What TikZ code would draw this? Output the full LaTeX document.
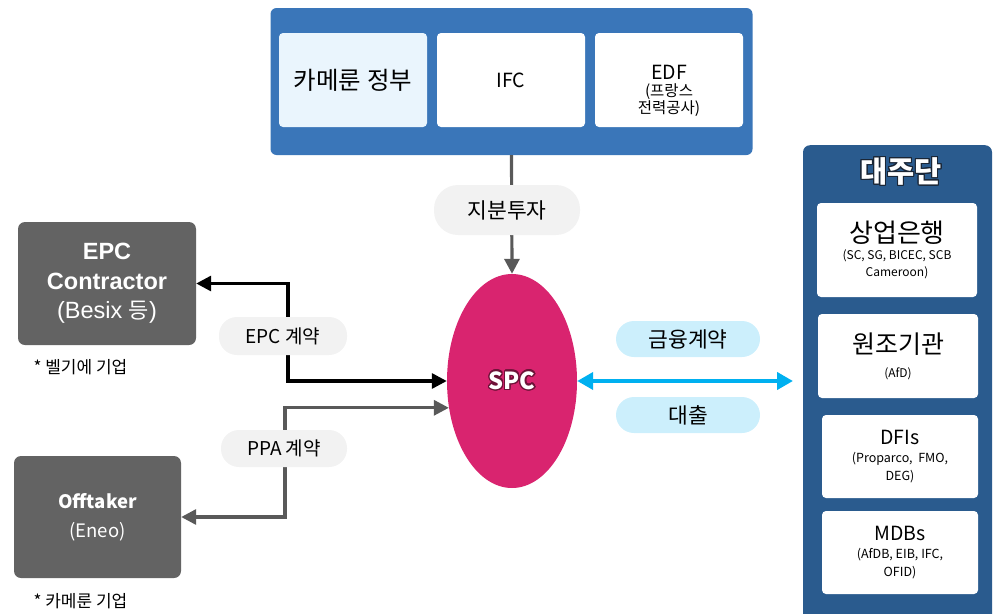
\documentclass[tikz,border=0pt]{standalone}
\usepackage{fontspec}
\setmainfont{Noto Sans CJK KR}
\newfontfamily\arialfont{Liberation Sans}
\usepackage{contour}
\contourlength{1.3pt}
\usetikzlibrary{arrows.meta,shapes.geometric}
\definecolor{topblue}{HTML}{3A76B9}
\definecolor{govfill}{HTML}{EAF5FD}
\definecolor{pillgray}{HTML}{F2F2F2}
\definecolor{pillblue}{HTML}{CCEFFC}
\definecolor{boxgray}{HTML}{636363}
\definecolor{spcpink}{HTML}{D9246F}
\definecolor{spcdark}{HTML}{6E1238}
\definecolor{lendblue}{HTML}{2A5B8E}
\definecolor{titledark}{HTML}{1A2636}
\definecolor{loancyan}{HTML}{00B0F0}
\definecolor{arrowgray}{HTML}{595959}
\tikzset{
  inbox/.style={fill=white,rounded corners=4,minimum width=148,minimum height=94,inner sep=0,align=center},
  darkbox/.style={fill=boxgray,rounded corners=7,inner sep=0,align=center,text=white},
  pill/.style={fill=pillgray,rounded corners=18,minimum width=128,minimum height=38,inner sep=0,font=\fontsize{19}{22}\selectfont},
  bluepill/.style={pill,fill=pillblue,minimum width=144,minimum height=36,font=\fontsize{21.5}{24}\selectfont},
  lendbox/.style={fill=white,rounded corners=4,inner sep=0,align=center,minimum width=156,minimum height=83},
  note/.style={anchor=west,font=\fontsize{17}{20}\selectfont},
  greyline/.style={draw=arrowgray,line width=3.2pt},
  tip/.style={-{Triangle[length=15pt,width=15pt]}},
}
\begin{document}
\begin{tikzpicture}[x=1pt,y=-1pt]
\useasboundingbox (0,0) rectangle (995,613);
% shareholders
\node[fill=topblue,rounded corners=6,minimum width=482,minimum height=147,inner sep=0] (share) at (511.5,81.5) {};
\node[inbox,fill=govfill,font=\fontsize{24.5}{28}\selectfont] (gov) at (353,80) {카메룬 정부};
\node[inbox,font=\fontsize{19.5}{22}\selectfont] (ifc) at (511,80) {IFC};
\node[inbox] (edf) at (669,80) {};
\node[align=center,inner sep=0,font=\fontsize{15.5}{17}\selectfont] (edftext) at (669,90.5) {{\fontsize{19.5}{22}\selectfont EDF}\\(프랑스\\전력공사)};

\node[ellipse,fill=spcpink,minimum width=130,minimum height=214,inner sep=0,text=white,font=\bfseries\fontsize{23.5}{26}\selectfont] (spc) at (512,381) {\contour{spcdark}{SPC}};

\node[darkbox,minimum width=178,minimum height=123,font=\arialfont\fontsize{23.5}{29.5}\selectfont] (epc) at (107,283.5)
  {{\arialfont\bfseries\fontsize{23.5}{27}\selectfont EPC}\\{\arialfont\bfseries\fontsize{23.5}{27}\selectfont Contractor}\\{\arialfont (Besix }{\rmfamily\fontsize{22}{26}\selectfont 등}{\arialfont )}};
\node[note] (epcnote) at (30,367) {* 벨기에 기업};

\node[darkbox,minimum width=167,minimum height=122,font=\fontsize{18.5}{29}\selectfont] (off) at (97.5,517) {{\bfseries Offtaker}\\(Eneo)};
\node[note] (offnote) at (30,601) {* 카메룬 기업};

% lenders
\node[fill=lendblue,rounded corners=7,minimum width=189,minimum height=480,inner sep=0,anchor=north] (lend) at (897.5,145) {};
\node[text=white,font=\bfseries\fontsize{29.5}{32}\selectfont] (lendtitle) at (901,172) {\contour{titledark}{대주단}};
\node[lendbox,minimum width=160,minimum height=94,font=\fontsize{12}{17}\selectfont] (bank) at (897,250)
  {{\fontsize{26}{28}\selectfont 상업은행}\\(SC, SG, BICEC, SCB\\Cameroon)};
\node[lendbox,minimum width=160,minimum height=84,font=\fontsize{12}{24}\selectfont] (aid) at (898,356)
  {{\fontsize{25}{28}\selectfont 원조기관}\\(AfD)};
\node[lendbox,font=\fontsize{12.5}{18}\selectfont] (dfi) at (900,456.5)
  {{\fontsize{19.5}{23}\selectfont DFIs}\\(Proparco,~ FMO,\\DEG)};
\node[lendbox,font=\fontsize{12.5}{18}\selectfont] (mdb) at (900,552.5)
  {{\fontsize{19.5}{23}\selectfont MDBs}\\(AfDB, EIB, IFC,\\OFID)};

% connectors
\coordinate (epcbend) at (288,336);
\coordinate (ppabend) at (285,448);
\coordinate (loanend) at (793,381);
\draw[greyline,tip] (share.south) -- (spc.north);
\draw[line width=3.2pt,{Triangle[length=15pt,width=15pt]}-{Triangle[length=15pt,width=15pt]}] (epc.east) -| (epcbend) |- (spc.west);
\draw[greyline,{Triangle[length=15pt,width=15pt]}-{Triangle[length=15pt,width=15pt]}] (spc.203) -| (ppabend) |- (off.east);
\draw[draw=loancyan,line width=4pt,{Triangle[length=16pt,width=17pt]}-{Triangle[length=16pt,width=17pt]}] (spc.east) -- (loanend);

\node[pill,minimum width=146,minimum height=50,rounded corners=24,font=\fontsize{21.5}{24}\selectfont] (equity) at (507,210) {지분투자};
\node[pill] (epcdeal) at (283,336) {EPC 계약};
\node[pill,minimum width=126,minimum height=37] (ppadeal) at (284,448.5) {PPA 계약};
\node[bluepill] (fincontract) at (688,339) {금융계약};
\node[bluepill] (loan) at (688,415) {대출};
\end{tikzpicture}
\end{document}
